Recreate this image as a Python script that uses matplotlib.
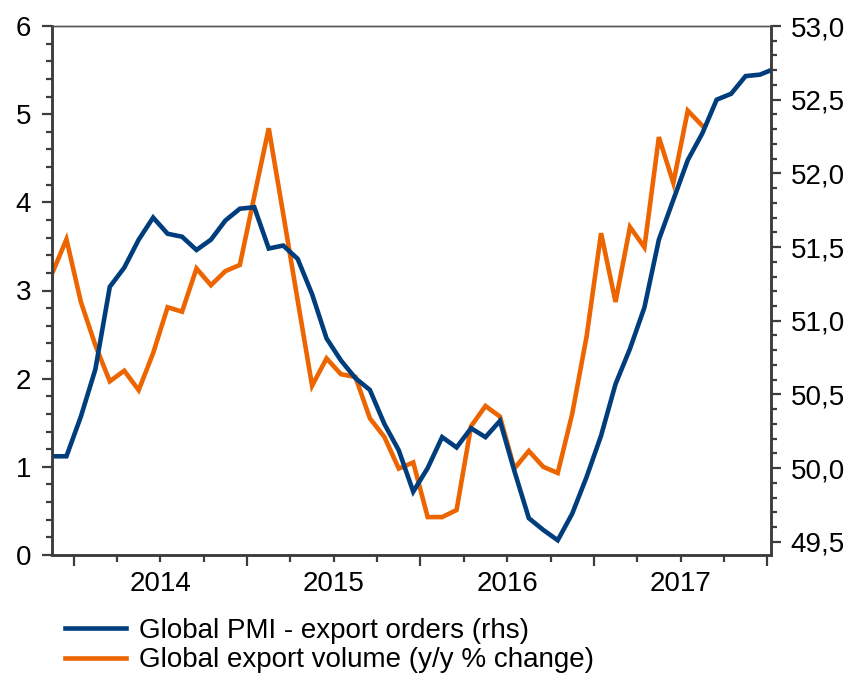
import numpy as np
import matplotlib
matplotlib.use("Agg")
import matplotlib.pyplot as plt
from matplotlib.ticker import MultipleLocator, FuncFormatter
from matplotlib.transforms import blended_transform_factory

plt.rcParams["font.family"] = ["Liberation Sans", "DejaVu Sans"]

# monthly series, Nov 2013 onwards
pmi_export_orders = [50.08, 50.08, 50.35, 50.67, 51.23, 51.36, 51.55, 51.70, 51.59, 51.57,
                     51.48, 51.55, 51.68, 51.76, 51.77, 51.49, 51.51, 51.42, 51.18, 50.88,
                     50.73, 50.61, 50.53, 50.30, 50.12, 49.84, 50.00, 50.21, 50.14, 50.27,
                     50.21, 50.32, 49.98, 49.66, 49.58, 49.51, 49.69, 49.94, 50.22, 50.57,
                     50.81, 51.09, 51.55, 51.82, 52.09, 52.27, 52.50, 52.54, 52.66, 52.67,
                     52.71]
export_volume = [3.19, 3.58, 2.87, 2.38, 1.97, 2.09, 1.87, 2.29, 2.81, 2.76,
                 3.25, 3.06, 3.22, 3.29, 4.07, 4.84, 3.87, 2.89, 1.92, 2.23,
                 2.05, 2.02, 1.55, 1.34, 0.98, 1.05, 0.43, 0.43, 0.51, 1.46,
                 1.69, 1.57, 0.98, 1.18, 1.00, 0.93, 1.60, 2.48, 3.65, 2.87,
                 3.72, 3.49, 4.74, 4.22, 5.04, 4.87]
years = ["2014", "2015", "2016", "2017"]

BLUE = "#003D7C"
ORANGE = "#EC6500"
AXC = "#3c3c3c"
FS = 20

fig = plt.figure(figsize=(8.49, 6.74), dpi=100)
ax = fig.add_axes([52 / 849, 1 - 555 / 674, (771 - 52) / 849, (555 - 26) / 674])
ax2 = ax.twinx()

ln_o, = ax.plot(np.arange(len(export_volume)), export_volume, color=ORANGE, lw=3.3,
                solid_joinstyle="miter", label="Global export volume (y/y % change)")
ln_b, = ax2.plot(np.arange(len(pmi_export_orders)), pmi_export_orders, color=BLUE, lw=3.3,
                 solid_joinstyle="miter", label="Global PMI - export orders (rhs)")

ax.set_xlim(0, 49.76)
ax.set_ylim(0, 6)
ax2.set_ylim(49.41, 53.0)

# left axis
ax.yaxis.set_major_locator(MultipleLocator(1))
ax.yaxis.set_minor_locator(MultipleLocator(0.2))
ax.tick_params(axis="y", which="major", length=7, width=1.6, color=AXC, labelsize=FS, pad=8)
ax.tick_params(axis="y", which="minor", length=4, width=1.6, color=AXC)

# right axis
ax2.yaxis.set_major_locator(MultipleLocator(0.5))
ax2.yaxis.set_minor_locator(MultipleLocator(0.1))
ax2.yaxis.set_major_formatter(FuncFormatter(lambda v, p: f"{v:.1f}".replace(".", ",")))
ax2.tick_params(axis="y", which="major", length=7, width=1.6, color=AXC, labelsize=FS, pad=7)
ax2.tick_params(axis="y", which="minor", length=4, width=1.6, color=AXC)

# x axis: year boundaries long, quarters short, labels mid-year
ax.set_xticks(np.arange(1.5, 50, 12))
ax.set_xticks(np.arange(1.5, 50, 3), minor=True)
ax.set_xticklabels([])
ax.tick_params(axis="x", which="major", length=8, width=1.6, color=AXC)
ax.tick_params(axis="x", which="minor", length=5, width=1.6, color=AXC)
trans = blended_transform_factory(ax.transData, ax.transAxes)
for i, yr in enumerate(years):
    ax.text(7.5 + 12 * i, -0.054, yr, transform=trans, ha="center", va="center", fontsize=FS)

for a in (ax, ax2):
    for side in ("left", "right", "bottom"):
        a.spines[side].set_linewidth(1.8)
        a.spines[side].set_color(AXC)
    a.spines["top"].set_linewidth(1.0)
    a.spines["top"].set_color("#555555")

fig.legend(handles=[ln_b, ln_o], loc="upper left", bbox_to_anchor=(0.0766, 0.083),
           frameon=False, fontsize=FS, handlelength=2.2, handletextpad=0.47,
           labelspacing=0.12, borderaxespad=0, borderpad=0)

fig.savefig("out.png", dpi=100)
